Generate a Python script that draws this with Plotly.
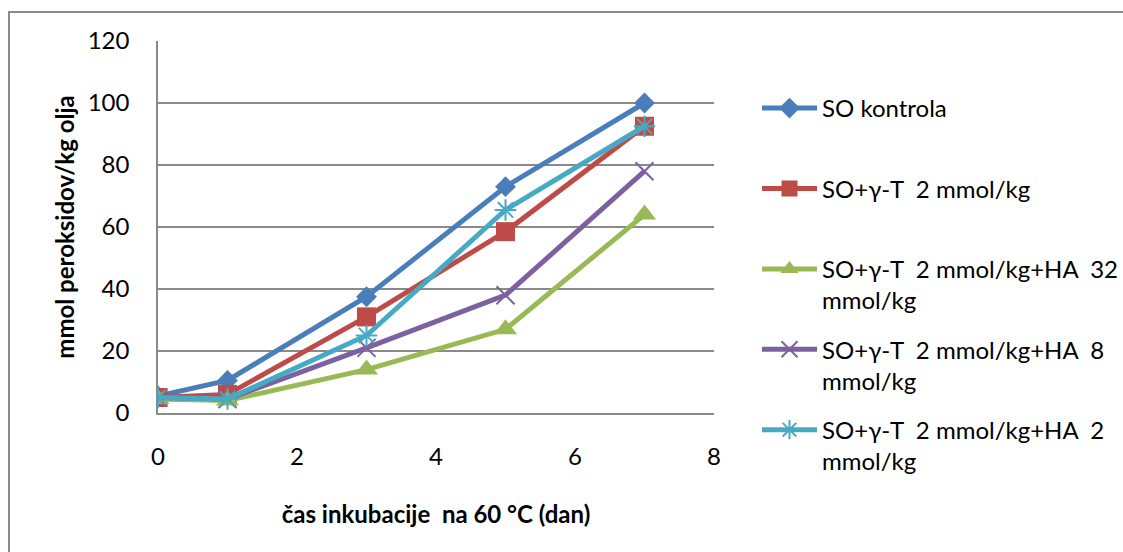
import plotly.graph_objects as go

# Incubation time (days) and peroxide values (mmol/kg oil)
days = [0, 1, 3, 5, 7]
so_kontrola = [5.5, 10.5, 37.5, 73, 100]
so_gt = [5, 6, 31, 58.5, 92.5]
so_gt_ha32 = [4.5, 4, 14, 27, 64]
so_gt_ha8 = [5, 4.5, 21, 38, 78]
so_gt_ha2 = [5, 4.5, 25, 65.5, 92.5]

names = [
    "SO kontrola<br>\u00a0",
    "SO+γ-T  2 mmol/kg<br>\u00a0",
    "SO+γ-T  2 mmol/kg+HA  32<br>mmol/kg",
    "SO+γ-T  2 mmol/kg+HA  8<br>mmol/kg",
    "SO+γ-T  2 mmol/kg+HA  2<br>mmol/kg",
]
series = [so_kontrola, so_gt, so_gt_ha32, so_gt_ha8, so_gt_ha2]
colors = ["#4A7EBB", "#BE4B48", "#98B954", "#7D60A0", "#46AAC5"]
symbols = ["diamond", "square", "triangle-up", "x-thin", "asterisk"]
sizes = [16, 19, 20, 18, 18]

FONT = "Lato"
W, H = 1123, 552
L, R, T, B = 158, 409, 41, 139

fig = go.Figure()
for i, (nm, ys) in enumerate(zip(names, series)):
    open_sym = symbols[i] in ("x-thin", "asterisk")
    fig.add_trace(go.Scatter(
        x=days, y=ys, name=nm.replace("  ", "\u00a0 "),
        mode="lines+markers",
        legendgroup=f"g{i}",
        line=dict(color=colors[i], width=5),
        marker=dict(symbol=symbols[i], size=sizes[i], color=colors[i],
                    line=dict(color=colors[i], width=2 if open_sym else 0)),
    ))

pw = W - L - R
ph = H - T - B

# chart-area frame (left and top edges visible)
fig.add_shape(type="rect", xref="paper", yref="paper",
              x0=(9 - L) / pw, x1=(1140 - L) / pw,
              y0=(H - B - 570) / ph, y1=(H - B - 12) / ph,
              line=dict(color="#8A8A8A", width=2), layer="below")

fig.update_layout(
    width=W, height=H,
    margin=dict(l=L, r=R, t=T, b=B, autoexpand=False),
    paper_bgcolor="white", plot_bgcolor="white",
    font=dict(family=FONT, size=24, color="black"),
    showlegend=True,
    legend=dict(
        x=(757 - L) / pw, y=(H - B - 86) / ph, xanchor="left", yanchor="top",
        valign="top", tracegroupgap=15, itemwidth=55, maxheight=470,
        font=dict(family=FONT, size=24, color="black"),
        bgcolor="rgba(0,0,0,0)",
    ),
    xaxis=dict(
        range=[0, 8], dtick=2, tick0=0, showgrid=False, zeroline=False,
        showline=True, linecolor="#8A8A8A", linewidth=1.5, ticks="",
        ticklabelstandoff=21,
        title=dict(text="<b>čas inkubacije \u00a0na 60 °C (dan)</b>", standoff=38,
                   font=dict(family=FONT, size=24)),
    ),
    yaxis=dict(
        range=[0, 120], dtick=20, tick0=0, showgrid=True, gridcolor="#8A8A8A",
        gridwidth=1.5, zeroline=False, showline=True, linecolor="#8A8A8A",
        linewidth=1.5, ticks="", ticklabelstandoff=22,
        title=dict(text="<b>mmol peroksidov/kg olja</b>", standoff=6,
                   font=dict(family=FONT, size=24)),
    ),
)

fig.write_html("out.html")
